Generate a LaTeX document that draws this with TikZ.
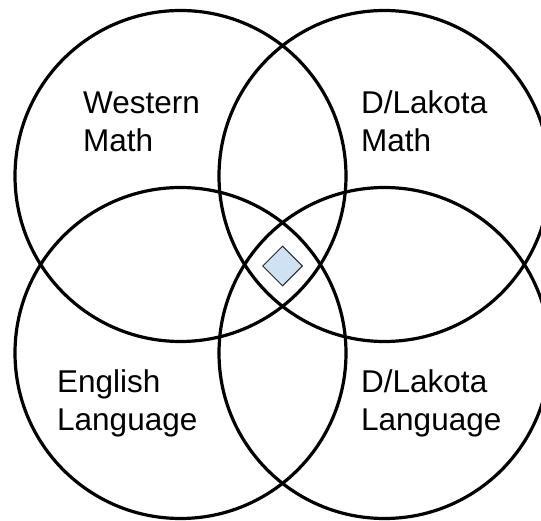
\documentclass[tikz,border=0pt]{standalone}
\usepackage{fontspec}
\setmainfont{Liberation Sans}
\usetikzlibrary{shapes.geometric}
\definecolor{coreblue}{HTML}{CFE2F3}
\begin{document}
\begin{tikzpicture}[
  x=1pt, y=-1pt,
  set/.style={circle, draw, line width=3.2pt,
              minimum size=331pt, inner sep=0pt},
  setname/.style={anchor=base west, align=left, inner sep=0pt,
                  font=\fontsize{31.5}{38}\selectfont},
  core/.style={diamond, draw=black!85, line width=1pt, fill=coreblue,
               minimum size=40pt, inner sep=0pt}
]
\clip (0,0) rectangle (541,521);
\fill[white] (0,0) rectangle (541,521);
% the four sets
\node[set] (wmath) at (180.5,176) {};
\node[set] (lmath) at (384.5,176) {};
\node[set] (elang) at (180.5,353) {};
\node[set] (llang) at (384.5,353) {};
% names (base = last line)
\node[setname] (wmathname) at (83,152) {Western\\Math};
\node[setname] (lmathname) at (361,152) {D/Lakota\\Math};
\node[setname] (elangname) at (57,430) {English\\Language};
\node[setname] (llangname) at (361,430) {D/Lakota\\Language};
% where all four meet
\node[core] (center) at (282.5,266) {};
\end{tikzpicture}
\end{document}
